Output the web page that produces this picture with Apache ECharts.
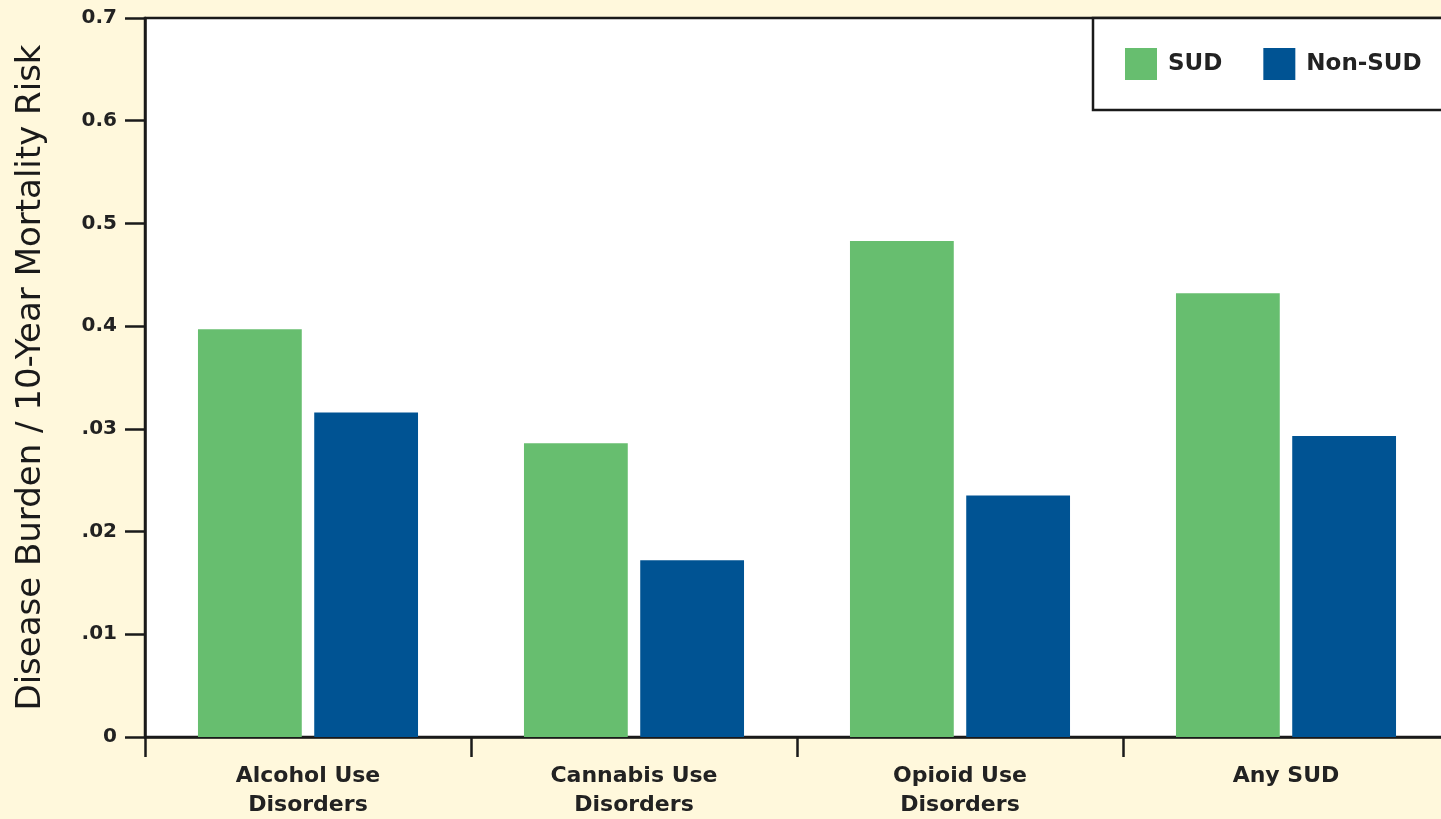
<!DOCTYPE html>
<html>
<head>
<meta charset="utf-8">
<script src="https://cdn.jsdelivr.net/npm/echarts@6/dist/echarts.min.js"></script>
<style>
html,body{margin:0;padding:0;background:#FFF8DC;overflow:hidden;}
#c{width:1490px;height:819px;}
</style>
</head>
<body>
<div id="c"></div>
<script>
var categories = ['Alcohol Use\nDisorders', 'Cannabis Use\nDisorders', 'Opioid Use\nDisorders', 'Any SUD'];
var sudValues = [0.397, 0.286, 0.483, 0.432];
var nonSudValues = [0.316, 0.172, 0.235, 0.293];
var yTickLabels = ['0', '.01', '.02', '.03', '0.4', '0.5', '0.6', '0.7'];
var seriesNames = ['SUD', 'Non-SUD'];

var FONT = '"DejaVu Sans", "Liberation Sans", Arial, sans-serif';
var chart = echarts.init(document.getElementById('c'));
chart.setOption({
  backgroundColor: '#FFF8DC',
  animation: false,
  textStyle: {fontFamily: FONT},
  grid: {
    left: 145, right: 41, top: 18, bottom: 82,
    outerBoundsMode: 'none',
    containLabel: false,
    show: true, backgroundColor: '#ffffff', borderColor: '#1a1a1a', borderWidth: 2.5
  },
  legend: {
    data: seriesNames,
    left: 1093, top: 18,
    orient: 'horizontal',
    icon: 'rect',
    itemWidth: 32, itemHeight: 32,
    itemGap: 41,
    padding: [30, 60, 30, 32],
    backgroundColor: '#ffffff',
    borderColor: '#1a1a1a', borderWidth: 2.5,
    textStyle: {fontSize: 23, fontWeight: 'bold', color: '#222', fontFamily: FONT, padding: [3, 0, 0, 6]}
  },
  xAxis: {
    type: 'category',
    data: categories,
    axisLine: {lineStyle: {color: '#1a1a1a', width: 2.5}},
    axisTick: {show: true, length: 20, lineStyle: {color: '#1a1a1a', width: 2.5}},
    axisLabel: {fontSize: 22, fontWeight: 'bold', color: '#222', margin: 25, lineHeight: 29, fontFamily: FONT},
    splitLine: {show: false}
  },
  yAxis: {
    type: 'value',
    min: 0, max: 0.7, interval: 0.1,
    name: 'Disease Burden / 10-Year Mortality Risk',
    nameLocation: 'middle',
    nameGap: 97,
    nameTextStyle: {fontSize: 34, color: '#1a1a1a', fontFamily: FONT},
    axisLine: {show: true, lineStyle: {color: '#1a1a1a', width: 2.5}},
    axisTick: {show: true, length: 20, lineStyle: {color: '#1a1a1a', width: 2.5}},
    axisLabel: {
      fontSize: 20, fontWeight: 'bold', color: '#222', margin: 28, fontFamily: FONT,
      formatter: function (v) { return yTickLabels[Math.round(v * 10)]; }
    },
    splitLine: {show: false}
  },
  series: [
    {name: seriesNames[0], type: 'bar', data: sudValues, itemStyle: {color: '#67BE6F'},
     barGap: '12%', barCategoryGap: '32.5%'},
    {name: seriesNames[1], type: 'bar', data: nonSudValues, itemStyle: {color: '#005393'}}
  ]
});
</script>
</body>
</html>
